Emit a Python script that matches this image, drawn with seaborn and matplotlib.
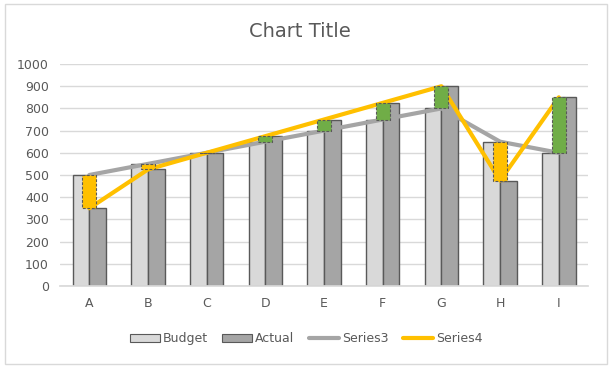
import matplotlib
matplotlib.use("Agg")
import matplotlib.pyplot as plt
import matplotlib.patches as mpatches
from matplotlib.lines import Line2D
import seaborn as sns
import pandas as pd
import numpy as np

categories = ["A", "B", "C", "D", "E", "F", "G", "H", "I"]
budget = [500, 550, 600, 650, 700, 750, 800, 650, 600]
actual = [350, 525, 600, 675, 750, 825, 900, 475, 850]
yticks = [0, 100, 200, 300, 400, 500, 600, 700, 800, 900, 1000]

sns.set_theme(style="white")
plt.rcParams['font.family'] = ['DejaVu Sans']

df = pd.DataFrame({
    "cat": categories * 2,
    "value": budget + actual,
    "series": ["Budget"] * len(categories) + ["Actual"] * len(categories),
})

fig = plt.figure(figsize=(6.12, 3.68), dpi=100)
ax = fig.add_axes([0.098, 0.223, 0.863, 0.603])

txt = "#595959"
sns.barplot(data=df, x="cat", y="value", hue="series",
            palette={"Budget": "#D9D9D9", "Actual": "#A5A5A5"},
            width=0.57, gap=0, edgecolor="#595959", linewidth=1.0,
            ax=ax, legend=False, zorder=2)

xs = np.arange(len(categories))
ax.plot(xs, budget, color="#A5A5A5", lw=3, zorder=3, solid_capstyle="round")
ax.plot(xs, actual, color="#FFC000", lw=3, zorder=3, solid_capstyle="round")

b = np.array(budget)
a = np.array(actual)
diff = a - b
colors = ["#70AD47" if d >= 0 else "#FFC000" for d in diff]
ax.bar(xs, diff, bottom=b, width=0.24, color=colors, edgecolor="#595959",
       linewidth=0.8, linestyle=(0, (2.5, 1.5)), zorder=4)

ax.set_ylim(0, 1000)
ax.set_xlim(-0.5, len(categories) - 0.5)
ax.set_yticks(yticks)
ax.set_yticklabels([str(t) for t in yticks])
ax.yaxis.grid(True, color="#D9D9D9", lw=1, zorder=0)
ax.set_axisbelow(True)
for s in ["left", "right", "top"]:
    ax.spines[s].set_visible(False)
ax.spines["bottom"].set_color("#D9D9D9")
ax.tick_params(axis="both", length=0, labelsize=9, colors=txt, pad=8)
ax.set_xlabel("")
ax.set_ylabel("")

fig.text(0.49, 0.915, "Chart Title", ha="center", va="center",
         fontsize=14, color=txt)

handles = [
    mpatches.Patch(facecolor="#D9D9D9", edgecolor="#595959", lw=0.8, label="Budget"),
    mpatches.Patch(facecolor="#A5A5A5", edgecolor="#595959", lw=0.8, label="Actual"),
    Line2D([0], [0], color="#A5A5A5", lw=3, label="Series3"),
    Line2D([0], [0], color="#FFC000", lw=3, label="Series4"),
]
fig.legend(handles=handles, loc="center", bbox_to_anchor=(0.5, 0.08), ncol=4,
           frameon=False, fontsize=9, labelcolor=txt, handlelength=2.4,
           handleheight=0.6, handletextpad=0.2, columnspacing=1.2)

fig.patches.append(mpatches.Rectangle((0.008, 0.01), 0.984, 0.98,
                                      transform=fig.transFigure, fill=False,
                                      edgecolor="#D9D9D9", lw=1))

fig.savefig("out.png", dpi=100)
